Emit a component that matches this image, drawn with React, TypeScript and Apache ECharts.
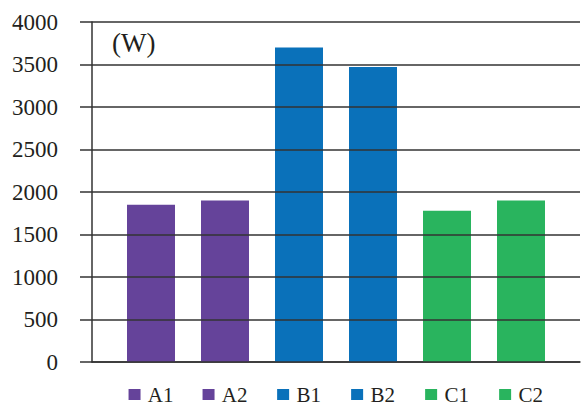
import React, { useEffect, useRef } from "react";
import * as echarts from "echarts";

const categories = ["A1", "A2", "B1", "B2", "C1", "C2"];
const values = [1850, 1900, 3700, 3470, 1780, 1900];
const groupKeys = ["a", "a", "b", "b", "c", "c"];
const groupColors: Record<string, string> = { a: "#65439A", b: "#0A71BA", c: "#29B45E" };
const yTicks = { min: 0, max: 4000, interval: 500 };
const unitLabel = "(W)";

export default function App() {
  const ref = useRef<HTMLDivElement>(null);
  useEffect(() => {
    const chart = echarts.init(ref.current!, null, { renderer: "svg" });
    const font = "Liberation Serif";
    const lineColor = "#333333";
    const textColor = "#231f20";
    chart.setOption({
      animation: false,
      backgroundColor: "#ffffff",
      textStyle: { fontFamily: font },
      grid: [
        { left: 92, right: 2, top: 22, bottom: 43 },
        { left: 114, right: 24, top: 22, bottom: 43 },
      ],
      xAxis: [
        {
          gridIndex: 0,
          type: "value",
          min: 0,
          max: 1,
          axisLine: { show: true, onZero: false, lineStyle: { color: lineColor, width: 1.5 } },
          axisTick: { show: false },
          axisLabel: { show: false },
          splitLine: { show: false },
        },
        {
          gridIndex: 1,
          type: "category",
          data: categories,
          axisLine: { show: false },
          axisTick: { show: false },
          axisLabel: {
            interval: 0,
            margin: 22,
            fontFamily: font,
            fontSize: 21,
            color: textColor,
            formatter: (v: string, i: number) => `{${groupKeys[i]}|} {t|${v}}`,
            rich: {
              a: { width: 12, height: 11, backgroundColor: groupColors.a },
              b: { width: 12, height: 11, backgroundColor: groupColors.b },
              c: { width: 12, height: 11, backgroundColor: groupColors.c },
              t: { fontFamily: font, fontSize: 21, color: textColor, padding: [0, 0, 0, 2] },
            },
          },
          splitLine: { show: false },
        },
      ],
      yAxis: [
        {
          gridIndex: 0,
          type: "value",
          ...yTicks,
          z: 5,
          axisLine: { show: true, lineStyle: { color: lineColor, width: 1.5 } },
          axisTick: { show: true, length: 12, lineStyle: { color: lineColor, width: 1.5 } },
          axisLabel: {
            margin: 34,
            fontFamily: font,
            fontSize: 23,
            color: textColor,
            formatter: (v: number) => String(v),
          },
          splitLine: { show: true, lineStyle: { color: lineColor, width: 1.5 } },
        },
        {
          gridIndex: 1,
          type: "value",
          ...yTicks,
          show: false,
          splitLine: { show: false },
        },
      ],
      graphic: [
        {
          type: "text",
          left: 112,
          top: 29,
          style: { text: unitLabel, fontFamily: font, fontSize: 27, fill: textColor },
        },
      ],
      series: [
        {
          type: "bar",
          xAxisIndex: 1,
          yAxisIndex: 1,
          barWidth: 48,
          z: 2,
          data: values.map((v, i) => ({ value: v, itemStyle: { color: groupColors[groupKeys[i]] } })),
        },
      ],
    });
    return () => chart.dispose();
  }, []);
  return <div ref={ref} style={{ position: "absolute", left: 0, top: 0, width: 582, height: 405 }} />;
}
